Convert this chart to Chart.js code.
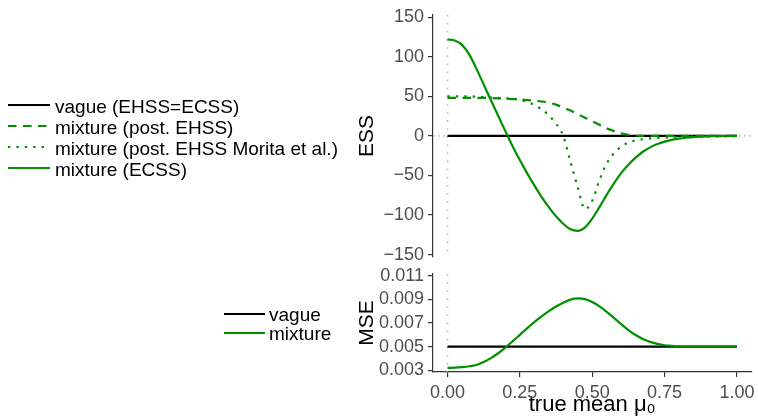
<!DOCTYPE html>
<html><head><meta charset="utf-8">
<script src="https://cdn.jsdelivr.net/npm/chart.js@4"></script>
<style>
html,body{margin:0;padding:0;background:#fff;width:758px;height:418px;overflow:hidden;position:relative;font-family:"Liberation Sans",Arial,sans-serif;}
canvas{position:absolute;left:0;}
#cTop{top:0;}
#cBot{top:258px;}
.lg{position:absolute;font-size:19px;line-height:19px;color:#000;white-space:nowrap;}
svg{position:absolute;overflow:visible;}
</style>
</head><body>
<canvas id="cTop" width="800" height="272"></canvas>
<canvas id="cBot" width="800" height="160"></canvas>
<div id="legends"></div>
<script>
// ---------------- data ----------------
const xs = [0,0.025,0.05,0.075,0.1,0.125,0.15,0.175,0.2,0.225,0.25,0.275,0.3,0.325,0.35,0.375,0.4,0.425,0.45,0.475,0.5,0.525,0.55,0.575,0.6,0.625,0.65,0.675,0.7,0.725,0.75,0.775,0.8,0.825,0.85,0.875,0.9,0.925,0.95,0.975,1];
const vagueX = [0, 1];
const essVague = [0, 0];
const essPostEHSS = [48,48,48,48,48,48,47.8,47.5,47,46.5,46,45.3,44.5,43.5,42,39.5,36,32,27.5,23,18.5,14,9.5,6,3.2,1.4,0.5,0.1,0,0,0,0,0,0,0,0,0,0,0,0,0];
const essMorita = [50,50,50,50,49.5,49,48.5,48,47.5,47,45.5,43,39,33.5,26,15.5,0,-33,-65,-92.5,-82,-56,-35,-22,-13.5,-8.5,-5.8,-4.2,-3.2,-2.5,-2,-1.6,-1.3,-1.1,-1,-0.9,-0.8,-0.7,-0.6,-0.5,-0.5];
const essECSS = [122,120.5,115,103,85,65,45,25.5,6,-13,-30.5,-47,-62.5,-77,-90,-101.5,-111,-118,-120,-115.5,-104.5,-90,-74.5,-60,-47,-36.5,-27.5,-20,-14.5,-10.3,-7.2,-5,-3.4,-2.3,-1.5,-1,-0.6,-0.4,-0.2,-0.1,0];
const mseVague = [0.005, 0.005];
const mseMixture = [0.0032,0.00322,0.00327,0.00334,0.00345,0.0037,0.00403,0.00444,0.00492,0.00545,0.006,0.00655,0.00707,0.00755,0.008,0.0084,0.00872,0.00898,0.00908,0.00902,0.00877,0.0084,0.00795,0.00744,0.0069,0.0064,0.00598,0.00565,0.0054,0.00523,0.00512,0.00506,0.00503,0.00501,0.005005,0.005,0.005,0.005,0.005,0.005,0.005];
const xTicks = [0, 0.25, 0.5, 0.75, 1];
const essTicks = [-150, -100, -50, 0, 50, 100, 150];
const mseTicks = [0.003, 0.005, 0.007, 0.009, 0.011];
const legendTop = ["vague (EHSS=ECSS)", "mixture (post. EHSS)", "mixture (post. EHSS Morita et al.)", "mixture (ECSS)"];
const legendBot = ["vague", "mixture"];

// ---------------- styles ----------------
const GREEN = '#009000';
const FONT = "'Liberation Sans', Arial, sans-serif";
Chart.defaults.font.family = FONT;
const pts = (x, y) => x.map((v, i) => ({x: v, y: y[i]}));
const minus = s => String(s).replace('-', '\u2212');

const refLines = {
  id: 'refLines',
  beforeDatasetsDraw(chart, args, opts) {
    const {ctx, chartArea: a, scales: {x, y}} = chart;
    ctx.save();
    ctx.strokeStyle = '#bdbdbd';
    ctx.lineWidth = 1.6;
    ctx.setLineDash([1.6, 6.5]);
    const px = x.getPixelForValue(0);
    ctx.beginPath(); ctx.moveTo(px, a.top); ctx.lineTo(px, a.bottom); ctx.stroke();
    if (opts.hline) {
      ctx.setLineDash([1.6, 3.5]);
      const py = y.getPixelForValue(0);
      ctx.beginPath(); ctx.moveTo(a.left, py); ctx.lineTo(a.right, py); ctx.stroke();
    }
    ctx.restore();
  }
};

const lineDs = (label, data, color, dash, order) => ({
  label, data, borderColor: color, borderWidth: 2.2, borderDash: dash, pointRadius: 0,
  cubicInterpolationMode: 'monotone', fill: false, order, borderCapStyle: 'butt'
});

const yAxis = (min, max, ticks, fmt, title) => ({
  type: 'linear', min, max,
  afterBuildTicks: s => { s.ticks = ticks.map(v => ({value: v})); },
  afterFit: s => { s.width = 78; },
  ticks: {color: '#4d4d4d', font: {size: 18}, padding: 4, autoSkip: false, callback: v => fmt(v)},
  grid: {drawOnChartArea: false, drawTicks: true, tickLength: 5, color: '#333', lineWidth: 1.2},
  border: {display: true, color: '#333', width: 1.2},
  title: {display: true, text: title, color: '#000', font: {size: 21}, padding: {top: 0, bottom: 0}}
});

new Chart(document.getElementById('cTop'), {
  type: 'line',
  data: {datasets: [
    lineDs(legendTop[0], pts(vagueX, essVague), '#000', [], 4),
    lineDs(legendTop[1], pts(xs, essPostEHSS), GREEN, [8.5, 6.5], 3),
    lineDs(legendTop[2], pts(xs, essMorita), GREEN, [2.4, 6], 2),
    lineDs(legendTop[3], pts(xs, essECSS), GREEN, [], 1)
  ]},
  options: {
    responsive: false, animation: false, devicePixelRatio: 1,
    layout: {padding: {left: 355, right: 48.6, top: 12, bottom: 15}},
    plugins: {legend: {display: false}, tooltip: {enabled: false}, refLines: {hline: true}},
    scales: {
      x: {type: 'linear', min: -0.05, max: 1.05, display: false},
      y: yAxis(-153, 153, essTicks, v => minus(v), 'ESS')
    }
  },
  plugins: [refLines]
});

new Chart(document.getElementById('cBot'), {
  type: 'line',
  data: {datasets: [
    lineDs(legendBot[0], pts(vagueX, mseVague), '#000', [], 2),
    lineDs(legendBot[1], pts(xs, mseMixture), GREEN, [], 1)
  ]},
  options: {
    responsive: false, animation: false, devicePixelRatio: 1,
    layout: {padding: {left: 355, right: 48.6, top: 16, bottom: 0}},
    plugins: {legend: {display: false}, tooltip: {enabled: false}, refLines: {hline: false}},
    scales: {
      x: {
        type: 'linear', min: -0.05, max: 1.05,
        afterBuildTicks: s => { s.ticks = xTicks.map(v => ({value: v})); },
        afterFit: s => { s.height = 46; },
        ticks: {color: '#4d4d4d', font: {size: 18}, padding: 5, maxRotation: 0, autoSkip: false, callback: v => Number(v).toFixed(2)},
        grid: {drawOnChartArea: false, drawTicks: true, tickLength: 5, color: '#333', lineWidth: 1.2},
        border: {display: true, color: '#333', width: 1.2},
        title: {display: true, text: 'true mean \u03bc\u2080', color: '#000', font: {size: 22}, padding: {top: 0, bottom: 0}}
      },
      y: yAxis(0.002855, 0.011145, mseTicks, v => Number(v).toFixed(3), 'MSE')
    }
  },
  plugins: [refLines]
});

// ---------------- legends (HTML) ----------------
const legHost = document.getElementById('legends');
const LFS = 19;
function addKey(x1, x2, y, color, dash) {
  const s = document.createElementNS('http://www.w3.org/2000/svg', 'svg');
  s.setAttribute('width', x2 - x1); s.setAttribute('height', 4);
  s.style.left = x1 + 'px'; s.style.top = (y - 2) + 'px';
  const l = document.createElementNS('http://www.w3.org/2000/svg', 'line');
  l.setAttribute('x1', 0); l.setAttribute('x2', x2 - x1); l.setAttribute('y1', 2); l.setAttribute('y2', 2);
  l.setAttribute('stroke', color); l.setAttribute('stroke-width', 2.2);
  if (dash) l.setAttribute('stroke-dasharray', dash);
  s.appendChild(l); legHost.appendChild(s);
}
function addText(x, baseline, text) {
  const d = document.createElement('div');
  d.className = 'lg'; d.textContent = text;
  d.style.left = x + 'px'; d.style.top = (baseline - 0.8465 * LFS) + 'px';
  legHost.appendChild(d);
}
const topStyles = [['#000', null], [GREEN, '8.5 6.5'], [GREEN, '2.4 6'], [GREEN, null]];
legendTop.forEach((t, i) => {
  const y = 104.5 + i * 21;
  addKey(8, 50, y, topStyles[i][0], topStyles[i][1]);
  addText(55, y + 8.5, t);
});
const botStyles = [['#000', null], [GREEN, null]];
legendBot.forEach((t, i) => {
  const y = 314 + i * 19.3;
  addKey(224, 265, y, botStyles[i][0], botStyles[i][1]);
  addText(269, y + 6.7, t);
});
</script>
</body></html>
